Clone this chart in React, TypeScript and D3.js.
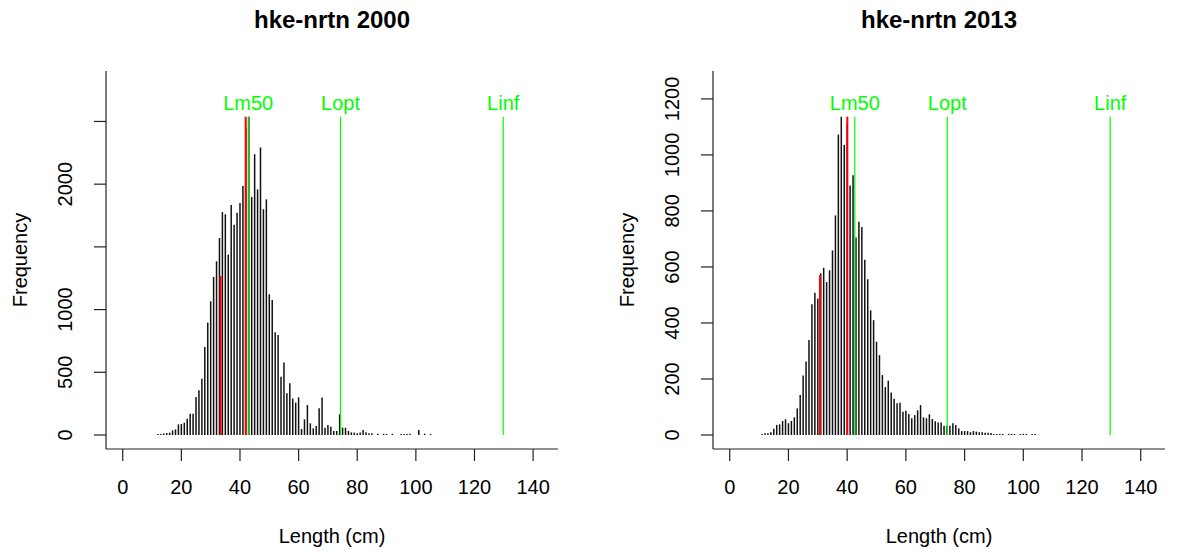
import React from "react";
import * as d3 from "d3";

// ---------- data ----------
const title2000 = "hke-nrtn 2000";
const title2013 = "hke-nrtn 2013";

// frequencies per 1-cm length class, first class = start length
const start2000 = 12;
const freq2000 = [
  5, 5, 11, 16, 19, 37, 45, 85, 88, 98,
  130, 170, 170, 303, 356, 449, 702, 896, 1066, 1260,
  1385, 1571, 1778, 1760, 1438, 1834, 1677, 1773, 1850, 1985,
  2450, 2537, 1898, 2238, 1958, 2292, 1800, 1879, 1122, 1076,
  819, 797, 465, 579, 332, 412, 292, 258, 300, 48,
  125, 239, 93, 53, 72, 213, 300, 58, 80, 66,
  32, 32, 165, 58, 58, 32, 21, 19, 13, 19,
  40, 21, 13, 13, 0, 10, 0, 10, 8, 0,
  10, 0, 0, 8, 8, 8, 10, 0, 0, 40,
  0, 10, 0, 8,
];

const start2013 = 11;
const freq2013 = [
  4, 6, 6, 10, 22, 36, 38, 50, 56, 42,
  50, 63, 95, 143, 212, 262, 339, 467, 508, 487,
  577, 597, 546, 588, 659, 784, 1073, 1136, 1035, 1110,
  891, 927, 705, 761, 743, 626, 556, 445, 410, 333,
  285, 214, 171, 194, 152, 129, 113, 115, 83, 87,
  75, 60, 71, 88, 107, 63, 60, 74, 57, 49,
  45, 45, 33, 33, 33, 42, 36, 24, 14, 14,
  14, 10, 14, 12, 10, 10, 8, 8, 7, 4,
  3, 4, 3, 0, 4, 3, 3, 0, 3, 4,
  3, 0, 3, 2,
];

// red highlighted classes (length, frequency)
const redLen2000 = [33.4, 41.95];
const redFreq2000 = [1268, 2537];
const redLen2013 = [30.75, 40.05];
const redFreq2013 = [571, 1136];

// reference lengths
const refNames = ["Lm50", "Lopt", "Linf"];
const refLen2000 = [42.8, 74.3, 129.8];
const refLen2013 = [42.6, 74.1, 129.6];

const xTicks = [0, 20, 40, 60, 80, 100, 120, 140];
const yTicks2000 = [0, 500, 1000, 1500, 2000, 2500];
const yLabels2000 = ["0", "500", "1000", "", "2000", ""];
const yTicks2013 = [0, 200, 400, 600, 800, 1000, 1200];
const yLabels2013 = ["0", "200", "400", "600", "800", "1000", "1200"];

const xLabel = "Length (cm)";
const yLabel = "Frequency";

// ---------- layout ----------
const W = 1178;
const H = 556;
const FONT = "'Liberation Sans', Arial, sans-serif";

type PanelProps = {
  left: number;
  title: string;
  start: number;
  freq: number[];
  redLen: number[];
  redFreq: number[];
  refLen: number[];
  yTicks: number[];
  yLabels: string[];
};

function Panel(p: PanelProps) {
  const plotLeft = p.left;
  const plotRight = p.left + 452;
  const plotTop = 71;
  const plotBottom = 449;
  const maxF = d3.max(p.freq) as number;
  const yMax = maxF * 1.1;
  const xMax = p.refLen[2] * 1.1;
  const x = d3
    .scaleLinear()
    .domain([-0.04 * xMax, 1.04 * xMax])
    .range([plotLeft, plotRight]);
  const y = d3
    .scaleLinear()
    .domain([-0.04 * yMax, 1.04 * yMax])
    .range([plotBottom, plotTop]);
  const cx = (plotLeft + plotRight) / 2;
  const cy = (plotTop + plotBottom) / 2;
  const axisColor = "#222";

  return (
    <g>
      <text
        x={cx}
        y={28}
        textAnchor="middle"
        fontFamily={FONT}
        fontWeight="bold"
        fontSize={24}
        fill="#000"
      >
        {p.title}
      </text>
      {/* bars */}
      {p.freq.map((f, i) =>
        f > 0 ? (
          <line
            key={"b" + i}
            x1={x(p.start + i)}
            x2={x(p.start + i)}
            y1={y(0)}
            y2={Math.min(y(f), y(0) - 1)}
            stroke="#111"
            strokeWidth={1.5}
          />
        ) : null
      )}
      {/* red */}
      {p.redLen.map((l, i) => (
        <line
          key={"r" + i}
          x1={x(l)}
          x2={x(l)}
          y1={y(0)}
          y2={y(p.redFreq[i])}
          stroke="#ff0000"
          strokeWidth={2}
        />
      ))}
      {/* reference lines */}
      {p.refLen.map((l, i) => (
        <g key={"g" + i}>
          <line
            x1={x(l)}
            x2={x(l)}
            y1={y(0)}
            y2={y(maxF)}
            stroke="#00ff00"
            strokeWidth={1.2}
          />
          <text
            x={x(l)}
            y={y(maxF * 1.045)}
            dy="0.35em"
            textAnchor="middle"
            fontFamily={FONT}
            fontSize={20}
            fill="#00ff00"
          >
            {refNames[i]}
          </text>
        </g>
      ))}
      {/* x axis */}
      <line
        x1={plotLeft}
        x2={plotRight}
        y1={plotBottom}
        y2={plotBottom}
        stroke={axisColor}
        strokeWidth={1.2}
      />
      {xTicks.map((t) => (
        <g key={"xt" + t}>
          <line
            x1={x(t)}
            x2={x(t)}
            y1={plotBottom}
            y2={plotBottom + 12}
            stroke={axisColor}
            strokeWidth={1.2}
          />
          <text
            x={x(t)}
            y={494}
            textAnchor="middle"
            fontFamily={FONT}
            fontSize={20}
            fill="#000"
          >
            {t}
          </text>
        </g>
      ))}
      <text
        x={cx}
        y={543}
        textAnchor="middle"
        fontFamily={FONT}
        fontSize={20}
        fill="#000"
      >
        {xLabel}
      </text>
      {/* y axis */}
      <line
        x1={plotLeft}
        x2={plotLeft}
        y1={plotTop}
        y2={plotBottom}
        stroke={axisColor}
        strokeWidth={1.2}
      />
      {p.yTicks.map((t, i) => (
        <g key={"yt" + t}>
          <line
            x1={plotLeft - 12}
            x2={plotLeft}
            y1={y(t)}
            y2={y(t)}
            stroke={axisColor}
            strokeWidth={1.2}
          />
          {p.yLabels[i] !== "" && (
            <text
              transform={`translate(${plotLeft - 34},${y(t)}) rotate(-90)`}
              textAnchor="middle"
              fontFamily={FONT}
              fontSize={20}
              fill="#000"
            >
              {p.yLabels[i]}
            </text>
          )}
        </g>
      ))}
      <text
        transform={`translate(${plotLeft - 79},${cy}) rotate(-90)`}
        textAnchor="middle"
        fontFamily={FONT}
        fontSize={20}
        fill="#000"
      >
        {yLabel}
      </text>
    </g>
  );
}

export default function App() {
  return (
    <svg
      width={W}
      height={H}
      viewBox={`0 0 ${W} ${H}`}
      style={{ position: "absolute", left: 0, top: 0, background: "#fff" }}
    >
      <rect x={0} y={0} width={W} height={H} fill="#fff" />
      <Panel
        left={106}
        title={title2000}
        start={start2000}
        freq={freq2000}
        redLen={redLen2000}
        redFreq={redFreq2000}
        refLen={refLen2000}
        yTicks={yTicks2000}
        yLabels={yLabels2000}
      />
      <Panel
        left={713}
        title={title2013}
        start={start2013}
        freq={freq2013}
        redLen={redLen2013}
        redFreq={redFreq2013}
        refLen={refLen2013}
        yTicks={yTicks2013}
        yLabels={yLabels2013}
      />
    </svg>
  );
}
